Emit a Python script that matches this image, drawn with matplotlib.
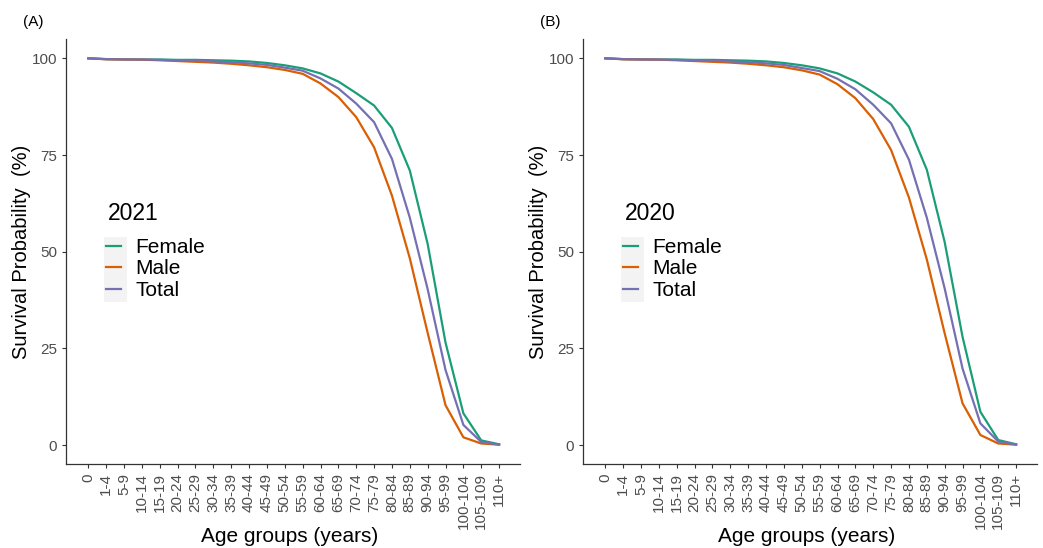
import matplotlib
matplotlib.use("Agg")
import matplotlib.pyplot as plt
from matplotlib.patches import Rectangle

plt.rcParams["font.family"] = ["Liberation Sans", "DejaVu Sans"]

age_groups = ["0", "1-4", "5-9", "10-14", "15-19", "20-24", "25-29", "30-34",
              "35-39", "40-44", "45-49", "50-54", "55-59", "60-64", "65-69",
              "70-74", "75-79", "80-84", "85-89", "90-94", "95-99", "100-104",
              "105-109", "110+"]

# panel A, 2021
female_2021 = [100, 99.8, 99.75, 99.7, 99.7, 99.6, 99.6, 99.5, 99.4, 99.2, 98.8, 98.2,
               97.4, 96.1, 94.0, 91.0, 87.8, 82.0, 71.0, 52.0, 26.5, 8.2, 1.2, 0.2]
male_2021 = [100, 99.75, 99.7, 99.65, 99.5, 99.3, 99.1, 98.9, 98.6, 98.2, 97.7, 97.0,
             96.0, 93.5, 90.0, 84.8, 77.0, 64.5, 48.3, 29.0, 10.3, 2.0, 0.4, 0.1]
total_2021 = [100, 99.8, 99.7, 99.7, 99.6, 99.5, 99.4, 99.2, 99.0, 98.7, 98.3, 97.6,
              96.8, 94.8, 92.2, 88.3, 83.5, 74.0, 58.8, 40.3, 19.4, 5.2, 0.8, 0.1]

# panel B, 2020
female_2020 = [100, 99.8, 99.75, 99.7, 99.7, 99.6, 99.6, 99.5, 99.4, 99.2, 98.8, 98.2,
               97.4, 96.1, 94.0, 91.2, 88.0, 82.3, 71.2, 52.5, 28.0, 8.6, 1.3, 0.2]
male_2020 = [100, 99.75, 99.7, 99.65, 99.5, 99.3, 99.1, 98.9, 98.6, 98.2, 97.7, 96.9,
             95.8, 93.3, 89.7, 84.3, 76.3, 64.0, 48.0, 28.9, 10.8, 2.6, 0.4, 0.1]
total_2020 = [100, 99.8, 99.7, 99.7, 99.6, 99.5, 99.4, 99.2, 99.0, 98.7, 98.3, 97.5,
              96.7, 94.7, 92.0, 88.0, 83.2, 73.8, 58.8, 40.5, 19.8, 5.6, 0.9, 0.1]

series_names = ["Female", "Male", "Total"]
colors = ["#1B9E77", "#D95F02", "#7570B3"]

W, H = 1043, 548
fig = plt.figure(figsize=(W / 100, H / 100), dpi=100)

AX_W, AX_H, AX_TOP = 454, 425, 39
AX_BOT = AX_TOP + AX_H


def px(xp, yp):
    # pixel position (from the panel's left spine / image top) -> axes fraction
    return xp / AX_W, (AX_BOT - yp) / AX_H


def draw_panel(left_px, tag, year, data):
    ax = fig.add_axes([left_px / W, (H - AX_BOT) / H, AX_W / W, AX_H / H])
    x = range(len(age_groups))
    for name, vals, c in zip(series_names, data, colors):
        ax.plot(x, vals, color=c, lw=1.6, label=name, solid_joinstyle="round")
    ax.set_xlim(-1.25, 24.17)
    ax.set_ylim(-4.9, 105)
    ax.set_yticks([0, 25, 50, 75, 100])
    ax.set_xticks(list(x))
    ax.set_xticklabels(age_groups, rotation=90)
    ax.tick_params(colors="#333333", labelcolor="#4D4D4D", labelsize=11, length=3, width=0.8)
    for s in ["top", "right"]:
        ax.spines[s].set_visible(False)
    for s in ["left", "bottom"]:
        ax.spines[s].set_color("#333333")
        ax.spines[s].set_linewidth(0.9)

    ax.set_xlabel("Age groups (years)", fontsize=15, va="center")
    ax.xaxis.set_label_coords(*px(290 - 66, 536))
    ax.set_ylabel("Survival Probability  (%)", fontsize=14.5, va="center")
    ax.yaxis.set_label_coords(*px(22 - 66, 252))

    # faint key background, title text, then the keys
    kx, ky = px(104 - 66, 302)
    ax.add_patch(Rectangle((kx, ky), 23 / AX_W, 65 / AX_H, transform=ax.transAxes,
                           facecolor="#F3F3F3", edgecolor="none", zorder=0))
    ax.text(*px(108 - 66, 213), year, transform=ax.transAxes,
            fontsize=16.5, ha="left", va="center")
    ax.legend(loc="upper left", bbox_to_anchor=px(106 - 66, 238),
              fontsize=15, frameon=False, handlelength=0.7, handletextpad=0.7,
              labelspacing=0.12, borderpad=0, borderaxespad=0)
    fig.text((left_px - 43) / W, 1 - 22 / H, tag, fontsize=11, va="center", ha="left")
    return ax


draw_panel(66, "(A)", "2021", [female_2021, male_2021, total_2021])
draw_panel(583, "(B)", "2020", [female_2020, male_2020, total_2020])

fig.savefig("out.png", dpi=100)
